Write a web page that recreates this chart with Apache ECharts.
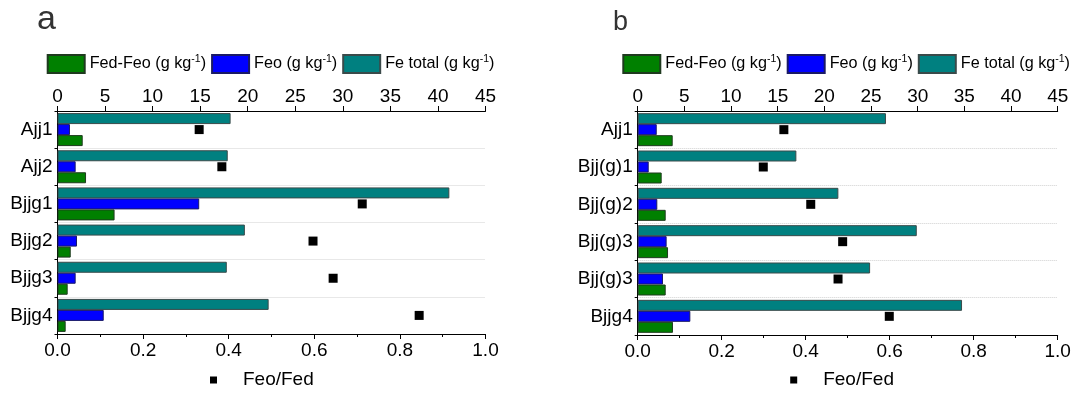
<!DOCTYPE html>
<html>
<head>
<meta charset="utf-8">
<script src="https://cdn.jsdelivr.net/npm/echarts@6/dist/echarts.min.js"></script>
<style>
  html, body { margin: 0; padding: 0; background: #fff; }
  #chart { width: 1075px; height: 393px; }
</style>
</head>
<body>
<div id="chart"></div>
<script>
// Panel a: profile samples
const catsA = ['Ajj1', 'Ajj2', 'Bjjg1', 'Bjjg2', 'Bjjg3', 'Bjjg4'];
const fedFeoA = [2.65, 3.0, 6.0, 1.39, 1.07, 0.86];
const feoA = [1.31, 1.91, 14.9, 2.05, 1.91, 4.86];
const feTotalA = [18.2, 17.9, 41.2, 19.7, 17.8, 22.2];
const ratioA = [0.331, 0.384, 0.712, 0.597, 0.644, 0.845];

// Panel b: profile samples
const catsB = ['Ajj1', 'Bjj(g)1', 'Bjj(g)2', 'Bjj(g)3', 'Bjj(g)3', 'Bjjg4'];
const fedFeoB = [3.75, 2.57, 3.0, 3.25, 3.0, 3.78];
const feoB = [2.04, 1.18, 2.1, 3.1, 2.71, 5.64];
const feTotalB = [26.6, 17.0, 21.5, 29.9, 24.9, 34.75];
const ratioB = [0.348, 0.299, 0.412, 0.488, 0.477, 0.599];

const FONT = '"Liberation Sans", Arial, sans-serif';
const C_GREEN = '#008000', C_BLUE = '#0000ff', C_TEAL = '#008080';
const BAR_NAMES = ['Fed-Feo', 'Feo', 'Fe total'];
const RATIO_NAME = 'Feo/Fed';

const chart = echarts.init(document.getElementById('chart'), null, { renderer: 'canvas' });

const grids = [
  { left: 57.5, top: 111, width: 428, height: 223 },
  { left: 637.7, top: 111, width: 420, height: 224 }
];

function unitLabel(name) {
  return '{n|' + name + ' (g kg}{s|-1}{n|)}';
}

const xAxes = [], yAxes = [], series = [], legends = [], titles = [];
const panels = [
  { cats: catsA, fedFeo: fedFeoA, feo: feoA, total: feTotalA, ratio: ratioA, letter: 'a' },
  { cats: catsB, fedFeo: fedFeoB, feo: feoB, total: feTotalB, ratio: ratioB, letter: 'b' }
];

panels.forEach((p, k) => {
  // top value axis for the bars (g/kg)
  xAxes.push({
    gridIndex: k, type: 'value', position: 'top', min: 0, max: 45, interval: 5,
    axisLine: { show: true, lineStyle: { color: '#000', width: 1 } },
    axisTick: { show: true, inside: false, length: 5, lineStyle: { color: '#000' } },
    axisLabel: { color: '#000', fontSize: 19, fontFamily: FONT, margin: 5 },
    splitLine: { show: false }
  });
  // bottom value axis for the ratio
  xAxes.push({
    gridIndex: k, type: 'value', position: 'bottom', min: 0, max: 1, interval: 0.2,
    axisLine: { show: true, lineStyle: { color: '#000', width: 1 } },
    axisTick: { show: true, length: 5, lineStyle: { color: '#000' } },
    minorTick: { show: true, splitNumber: 2, length: 3, lineStyle: { color: '#000' } },
    axisLabel: { color: '#000', fontSize: 19, fontFamily: FONT, margin: 7,
      formatter: v => v.toFixed(1) },
    splitLine: { show: false }
  });
  yAxes.push({
    gridIndex: k, type: 'category', data: p.cats, inverse: true,
    axisLine: { show: true, lineStyle: { color: '#000', width: 1 } },
    axisTick: { show: true, length: 3, lineStyle: { color: '#000' } },
    axisLabel: { color: '#000', fontSize: 19, fontFamily: FONT, margin: 5 },
    splitLine: { show: true, lineStyle: { color: '#d0d0d0', type: 'dotted', width: 1 } }
  });

  const xTop = k * 2, xBot = k * 2 + 1;
  const barCommon = {
    type: 'bar', xAxisIndex: xTop, yAxisIndex: k, barWidth: 11, barGap: '0%',
    animation: false
  };
  series.push(Object.assign({}, barCommon, {
    name: BAR_NAMES[2], data: p.total,
    itemStyle: { color: C_TEAL, borderColor: '#3a4a4a', borderWidth: 1 }
  }));
  series.push(Object.assign({}, barCommon, {
    name: BAR_NAMES[1], data: p.feo,
    itemStyle: { color: C_BLUE, borderColor: '#1a1a66', borderWidth: 1 }
  }));
  series.push(Object.assign({}, barCommon, {
    name: BAR_NAMES[0], data: p.fedFeo,
    itemStyle: { color: C_GREEN, borderColor: '#1f3a1f', borderWidth: 1 }
  }));
  series.push({
    type: 'scatter', name: RATIO_NAME, xAxisIndex: xBot, yAxisIndex: k,
    symbol: 'rect', symbolSize: 9, animation: false,
    itemStyle: { color: '#000', opacity: 1 },
    data: p.ratio.map((v, i) => [v, i]),
    z: 5
  });

  const g = grids[k];
  legends.push({
    data: BAR_NAMES.map(n => ({ name: n, icon: 'rect' })),
    left: g.left - (k === 0 ? 10.8 : 15.4), top: 54, width: 480,
    orient: 'horizontal', padding: 0, itemGap: 5,
    itemWidth: 37, itemHeight: 18,
    formatter: name => unitLabel(name),
    textStyle: {
      color: '#000', fontFamily: FONT,
      rich: {
        n: { fontSize: 16.2, fontFamily: FONT, color: '#000', lineHeight: 20 },
        s: { fontSize: 10.5, fontFamily: FONT, color: '#000', verticalAlign: 'top', lineHeight: 12 }
      }
    },
    selectedMode: false
  });
  legends.push({
    data: [{ name: RATIO_NAME, icon: 'rect', itemStyle: { color: '#000', opacity: 1 } }],
    left: g.left + 152.5, top: 370,
    padding: 0, itemWidth: 7, itemHeight: 7,
    textStyle: { color: '#000', fontSize: 19, fontFamily: FONT, padding: [0, 0, 0, 21], lineHeight: 20 },
    selectedMode: false
  });
  titles.push({
    text: p.letter, left: k === 0 ? 37 : 613, top: k === 0 ? 3 : 9, padding: 0,
    textStyle: { fontSize: k === 0 ? 34 : 27, fontWeight: 'normal', color: '#333', fontFamily: FONT }
  });
});

chart.setOption({
  backgroundColor: '#fff',
  animation: false,
  title: titles,
  grid: grids,
  xAxis: xAxes,
  yAxis: yAxes,
  legend: legends,
  series: series
});
</script>
</body>
</html>
